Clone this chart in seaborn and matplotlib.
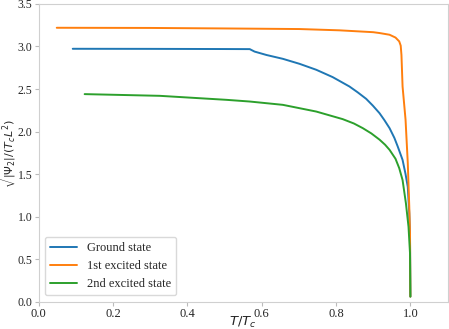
import numpy as np
import pandas as pd
import matplotlib
matplotlib.use("Agg")
import matplotlib.pyplot as plt
import seaborn as sns

# ------------------------------------------------------------
# Data
# ------------------------------------------------------------
ground_x = [0.092, 0.30, 0.50, 0.568, 0.581, 0.613, 0.657, 0.702, 0.747, 0.791,
            0.836, 0.858, 0.881, 0.899, 0.917, 0.930, 0.944, 0.957, 0.966, 0.979,
            0.987, 0.993, 0.997, 0.999, 1.0]
ground_y = [2.973, 2.972, 2.970, 2.969, 2.940, 2.900, 2.855, 2.796, 2.726, 2.640,
            2.530, 2.462, 2.385, 2.305, 2.216, 2.135, 2.040, 1.925, 1.824, 1.667,
            1.500, 1.350, 1.040, 0.765, 0.06]

first_x = [0.049, 0.30, 0.50, 0.702, 0.809, 0.900, 0.917, 0.944, 0.960, 0.970,
           0.974, 0.976, 0.979, 0.987, 0.993, 0.997, 0.999, 1.0]
first_y = [3.220, 3.218, 3.212, 3.205, 3.190, 3.168, 3.158, 3.138, 3.105, 3.060,
           3.010, 2.900, 2.530, 2.140, 1.630, 1.120, 0.800, 0.06]

second_x = [0.124, 0.326, 0.505, 0.568, 0.657, 0.747, 0.818, 0.848, 0.872, 0.895,
            0.917, 0.932, 0.944, 0.960, 0.970, 0.979, 0.988, 0.995, 0.999, 1.0]
second_y = [2.440, 2.420, 2.373, 2.353, 2.314, 2.235, 2.146, 2.095, 2.040, 1.978,
            1.905, 1.845, 1.785, 1.680, 1.570, 1.430, 1.157, 0.880, 0.570, 0.06]

labels = ["Ground state", "1st excited state", "2nd excited state"]

df = pd.concat([
    pd.DataFrame({"x": ground_x, "y": ground_y, "state": labels[0]}),
    pd.DataFrame({"x": first_x, "y": first_y, "state": labels[1]}),
    pd.DataFrame({"x": second_x, "y": second_y, "state": labels[2]}),
], ignore_index=True)

# ------------------------------------------------------------
# Plot
# ------------------------------------------------------------
sns.set_style("ticks")
plt.rcParams["font.family"] = ["Liberation Serif", "DejaVu Serif"]
plt.rcParams["mathtext.fontset"] = "dejavusans"

fig = plt.figure(figsize=(4.49, 3.29), dpi=100)
ax = fig.add_axes([0.0858, 0.083, 0.911, 0.905])

palette = ["#1f77b4", "#ff7f0e", "#2ca02c"]
sns.lineplot(data=df, x="x", y="y", hue="state", palette=palette,
             sort=False, estimator=None, linewidth=1.4, ax=ax)

ax.set_xlim(0, 1.1)
ax.set_ylim(0, 3.5)
ax.set_xticks([0.0, 0.2, 0.4, 0.6, 0.8, 1.0])
ax.set_yticks(np.arange(0, 3.51, 0.5))
ax.tick_params(labelsize=9, length=3, color="#bbbbbb", pad=1.5)
ax.tick_params(axis="y", labelsize=8.5)

for spine in ax.spines.values():
    spine.set_visible(True)
    spine.set_color("#d0d0d0")

ax.set_xlabel(r"$T/T_c$", fontsize=9.5)
ax.xaxis.set_label_coords(0.5, -0.045)
ax.xaxis.label.set_va("top")
ax.set_ylabel(r"$\sqrt{|\Psi_2|/(T_c L^2)}$", fontsize=8)
ax.yaxis.set_label_coords(-0.049, 0.5)

leg = ax.legend(loc="lower left", fontsize=9, frameon=True, handlelength=2.2)
leg.get_frame().set_edgecolor("#d0d0d0")

fig.savefig("out.png", dpi=100)
